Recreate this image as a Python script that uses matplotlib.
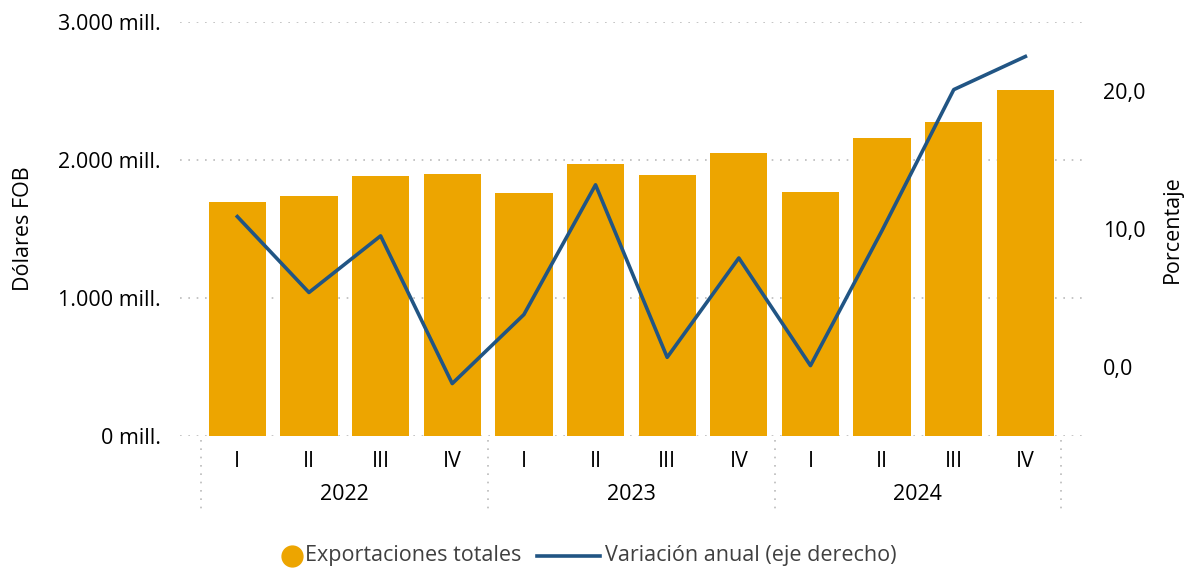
import matplotlib
matplotlib.use("Agg")
import matplotlib.pyplot as plt
from matplotlib.lines import Line2D
import numpy as np

plt.rcParams['font.family'] = ['Open Sans', 'DejaVu Sans']

years = ["2022", "2023", "2024"]
quarters = ["I", "II", "III", "IV"]
exports = [1696, 1739, 1884, 1899, 1761, 1971, 1891, 2051, 1768, 2159, 2275, 2507]
variation = [10.9, 5.4, 9.5, -1.2, 3.8, 13.2, 0.7, 7.9, 0.1, 9.9, 20.1, 22.5]
left_ticks = [0, 1000, 2000, 3000]
left_labels = ["0 mill.", "1.000 mill.", "2.000 mill.", "3.000 mill."]
right_ticks = [0, 10, 20]
right_labels = ["0,0", "10,0", "20,0"]
legend_labels = ["Exportaciones totales", "Variación anual (eje derecho)"]

bar_color = "#EDA500"
line_color = "#215584"
fs = 15.5
W, H = 1186, 569

fig = plt.figure(figsize=(W/100, H/100), dpi=100)
ax = fig.add_axes([180/W, 1-436/H, (1082-180)/W, (436-22)/H])
x = np.arange(len(exports))
ax.bar(x, exports, width=0.8, color=bar_color, zorder=2)
ax.set_xlim(-0.80, 11.79)
ax.set_ylim(0, 3000)
ax.set_yticks(left_ticks)
ax.set_yticklabels(left_labels, fontsize=fs)
ax.grid(axis='y', linestyle=(0, (1, 4)), color='#bbbbbb', linewidth=1.2, zorder=0)
for s in ax.spines.values():
    s.set_visible(False)
ax.tick_params(axis='y', length=0, pad=14)
ax.tick_params(axis='x', length=0)
ax.set_xticks([])
ax.set_ylabel("Dólares FOB", fontsize=fs, labelpad=17)

ax2 = ax.twinx()
ax2.plot(x, variation, color=line_color, linewidth=2.6, zorder=3)
ax2.set_ylim(-5, 25)
ax2.set_yticks(right_ticks)
ax2.set_yticklabels(right_labels, fontsize=fs)
for s in ax2.spines.values():
    s.set_visible(False)
ax2.tick_params(axis='y', length=0, pad=15)
ax2.set_ylabel("Porcentaje", fontsize=fs, labelpad=12)

# category labels
trans = ax.get_xaxis_transform()
for i in range(len(exports)):
    ax.text(i, -0.062, quarters[i % 4], transform=trans, ha='center', va='center', fontsize=fs)
for j, y in enumerate(years):
    ax.text(j*4 + 1.5, -0.141, y, transform=trans, ha='center', va='center', fontsize=fs)
for b in [-0.5, 3.5, 7.5, 11.5]:
    ax.add_line(Line2D([b, b], [-0.01, -0.19], transform=trans, clip_on=False,
                       color='#bbbbbb', linestyle=(0, (1, 4)), linewidth=1.2))

# legend drawn in figure coordinates
ly = 1 - 556/H
fig.add_artist(Line2D([292/W], [ly], marker='o', markersize=15, color=bar_color,
                      linestyle='none', transform=fig.transFigure))
fig.text(305/W, ly, legend_labels[0], fontsize=fs, color='#404040', ha='left', va='center')
fig.add_artist(Line2D([537/W, 600/W], [ly, ly], color=line_color, linewidth=2.6,
                      transform=fig.transFigure))
fig.text(605/W, ly, legend_labels[1], fontsize=fs, color='#404040', ha='left', va='center')

fig.savefig("out.png", dpi=100)
